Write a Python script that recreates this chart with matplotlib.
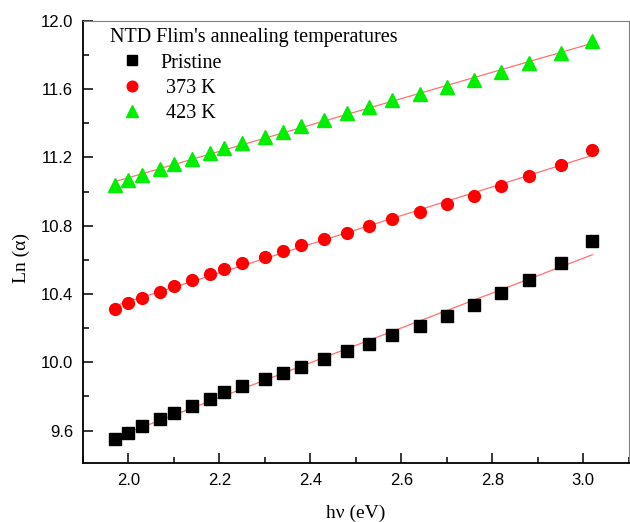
import numpy as np
import matplotlib
matplotlib.use('Agg')
import matplotlib.pyplot as plt
from matplotlib.ticker import MultipleLocator, FormatStrFormatter

# photon energy (eV), same for all three samples
hv = [1.97, 2.00, 2.03, 2.07, 2.10, 2.14, 2.18, 2.21, 2.25, 2.30, 2.34, 2.38,
      2.43, 2.48, 2.53, 2.58, 2.64, 2.70, 2.76, 2.82, 2.88, 2.95, 3.02]

ln_pristine = [9.55, 9.585, 9.625, 9.665, 9.705, 9.745, 9.785, 9.825, 9.86, 9.90,
               9.94, 9.975, 10.02, 10.065, 10.11, 10.16, 10.21, 10.27, 10.335,
               10.405, 10.485, 10.58, 10.71]
ln_373 = [10.315, 10.345, 10.375, 10.41, 10.445, 10.48, 10.515, 10.545, 10.58,
          10.615, 10.65, 10.685, 10.72, 10.76, 10.80, 10.84, 10.88, 10.925,
          10.975, 11.03, 11.09, 11.155, 11.245]
ln_423 = [11.04, 11.07, 11.10, 11.13, 11.16, 11.19, 11.225, 11.255, 11.285,
          11.32, 11.35, 11.385, 11.42, 11.46, 11.495, 11.535, 11.57, 11.61,
          11.655, 11.70, 11.755, 11.81, 11.885]

labels = ['Pristine', ' 373 K', ' 423 K']

fig = plt.figure(figsize=(6.3, 5.22), dpi=100)
ax = fig.add_axes([0.1317, 0.113, 0.8663, 0.847])

x = np.array(hv)
series = [(ln_pristine, 's', 'black', 8), (ln_373, 'o', 'red', 8.5), (ln_423, '^', '#00ee00', 9.5)]
for (y, m, c, ms), lab in zip(series, labels):
    y = np.array(y)
    ax.plot(x, y, m, color=c, markersize=ms, markeredgecolor=c, label=lab, zorder=3)
    # linear fit
    k, b = np.polyfit(x, y, 1)
    ax.plot(x, k * x + b, '-', color='#ff7070', lw=0.9, zorder=2)

ax.set_xlim(1.9, 3.1)
ax.set_ylim(9.41, 12.0)
ax.xaxis.set_major_locator(MultipleLocator(0.2))
ax.xaxis.set_minor_locator(MultipleLocator(0.1))
ax.yaxis.set_major_locator(MultipleLocator(0.4))
ax.yaxis.set_minor_locator(MultipleLocator(0.2))
ax.tick_params(which='both', direction='in', top=False, right=False,
               labelsize=12, width=1.1, pad=7)
ax.tick_params(which='major', length=7)
ax.tick_params(which='minor', length=4)
for lab in ax.get_xticklabels() + ax.get_yticklabels():
    lab.set_fontfamily('Liberation Sans')
ax.xaxis.set_major_formatter(FormatStrFormatter('%.1f'))
ax.yaxis.set_major_formatter(FormatStrFormatter('%.1f'))

ax.spines['left'].set_linewidth(1.3)
ax.spines['bottom'].set_linewidth(1.3)
ax.spines['top'].set_color('#808080')
ax.spines['right'].set_color('#808080')

ax.set_xlabel('h\u03bd (eV)', fontfamily='Liberation Serif', fontsize=14)
ax.xaxis.set_label_coords(0.5, -0.094)
ax.set_ylabel('Ln (\u03b1)', fontfamily='Liberation Serif', fontsize=14)
ax.yaxis.set_label_coords(-0.097, 0.464)

leg = ax.legend(loc='upper left', frameon=False, title="NTD Flim's annealing temperatures",
                prop={'family': 'Liberation Serif', 'size': 14.5},
                title_fontproperties={'family': 'Liberation Serif', 'size': 14.5},
                handlelength=2.2, handletextpad=0.3, labelspacing=0.3,
                markerscale=0.9, borderaxespad=0, borderpad=0,
                bbox_to_anchor=(0.05, 0.983))
leg._legend_box.align = 'left'

fig.savefig('out.png', dpi=100)
